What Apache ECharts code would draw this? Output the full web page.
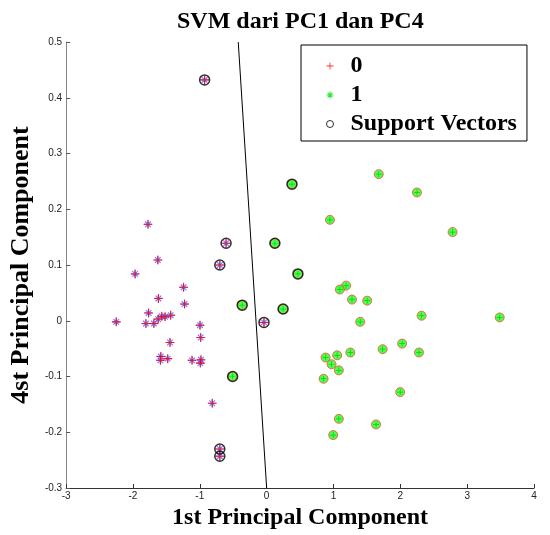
<!DOCTYPE html>
<html lang="en">
<head>
    <meta charset="UTF-8">
    <title>SVM dari PC1 dan PC4</title>
    <script src="https://cdn.jsdelivr.net/npm/echarts@6/dist/echarts.min.js"></script>
    <style>
        body{ margin:0; background:#fff; }
        #chart{ width:550px; height:535px; }
    </style>
</head>
<body>
<div id="chart"></div>
<script>
    // kelas 0 (bukan support vector)
    var class0 = [
        [-1.776,0.173],[-1.628,0.109],[-1.968,0.084],[-1.243,0.060],[-1.619,0.040],
        [-1.228,0.030],[-1.767,0.014],[-2.250,-0.002],[-1.569,0.008],[-1.520,0.007],
        [-1.436,0.010],[-1.623,0.003],[-1.806,-0.005],[-1.687,-0.005],[-0.997,-0.008],
        [-0.987,-0.030],[-1.446,-0.039],[-1.584,-0.064],[-1.589,-0.071],[-1.480,-0.068],
        [-1.116,-0.071],[-0.983,-0.070],[-0.992,-0.076],[-0.814,-0.148]
    ];
    var sv0 = [
        [-0.928,0.432],[-0.607,0.139],[-0.701,0.100],[-0.040,-0.003],[-0.701,-0.230],[-0.701,-0.243]
    ];
    // kelas 1
    var class1 = [
        [1.677,0.263],[2.249,0.230],[0.947,0.181],[2.782,0.159],[1.188,0.063],
        [1.095,0.056],[1.277,0.038],[1.504,0.036],[2.318,0.009],[3.487,0.006],
        [1.400,-0.002],[2.027,-0.041],[1.736,-0.051],[2.279,-0.057],[1.252,-0.057],
        [1.055,-0.062],[0.882,-0.066],[0.971,-0.078],[1.080,-0.089],[0.852,-0.104],
        [1.998,-0.128],[1.080,-0.176],[1.637,-0.186],[0.996,-0.205]
    ];
    var sv1 = [
        [0.379,0.245],[0.123,0.139],[0.468,0.084],[0.246,0.021],[-0.366,0.028],[-0.509,-0.100]
    ];
    // garis pemisah
    var boundary = [[-0.425,0.5],[0.0,-0.3]];

    var serif = "'Times New Roman', 'Liberation Serif', serif";
    var plusPath = 'path://M-0.12,-1H0.12V-0.12H1V0.12H0.12V1H-0.12V0.12H-1V-0.12H-0.12Z';
    var starPath = 'path://M-0.15,-1H0.15V-0.15H1V0.15H0.15V1H-0.15V0.15H-1V-0.15H-0.15Z M-0.8,-0.6L-0.6,-0.8L0.8,0.6L0.6,0.8Z M0.6,-0.8L0.8,-0.6L-0.6,0.8L-0.8,0.6Z';

    var all0 = class0.concat(sv0);
    var all1 = class1.concat(sv1);
    var svAll = sv0.concat(sv1);

    var chart = echarts.init(document.getElementById('chart'));
    var option = {
        animation:false,
        title:{
            text:'SVM dari PC1 dan PC4',
            left:172, top:5,
            textStyle:{ fontFamily:serif, fontSize:24, fontWeight:'bold', color:'#000' }
        },
        legend:{
            orient:'vertical',
            left:301, top:45,
            padding:[9,10,5,25],
            itemGap:5,
            itemWidth:7, itemHeight:7,
            borderColor:'#000', borderWidth:1,
            backgroundColor:'#fff',
            textStyle:{ fontFamily:serif, fontSize:24, fontWeight:'bold', color:'#000', padding:[0,0,0,12] },
            data:[
                { name:'0', icon:plusPath, itemStyle:{ color:'#ff0000', borderWidth:0 } },
                { name:'1', icon:starPath, itemStyle:{ color:'#00dd00', borderWidth:0 } },
                { name:'Support Vectors', icon:'circle', itemStyle:{ color:'#fff', borderColor:'#000', borderWidth:1 } }
            ]
        },
        grid:{ left:61, right:16, top:42, bottom:46 },
        xAxis:{
            type:'value', min:-3, max:4, interval:1,
            name:'1st Principal Component', nameLocation:'middle', nameGap:18,
            nameTextStyle:{ fontFamily:serif, fontSize:24, fontWeight:'bold', color:'#000' },
            axisLine:{ onZero:false, lineStyle:{ color:'#333' } },
            axisTick:{ inside:true, length:4, lineStyle:{ color:'#333' } },
            axisLabel:{ margin:3, fontFamily:'Liberation Sans', fontSize:10, color:'#222' },
            splitLine:{ show:false }
        },
        yAxis:{
            type:'value', min:-0.3, max:0.5, interval:0.1,
            name:'4st Principal Component', nameLocation:'middle', nameGap:23,
            nameTextStyle:{ fontFamily:serif, fontSize:26, fontWeight:'bold', color:'#000' },
            axisLine:{ onZero:false, lineStyle:{ color:'#888' } },
            axisTick:{ inside:true, length:4, lineStyle:{ color:'#555' } },
            axisLabel:{ margin:4, fontFamily:'Liberation Sans', fontSize:10, color:'#222',
                formatter:function(v){ return String(+v.toFixed(1)); } },
            splitLine:{ show:false }
        },
        series:[
            {
                name:'boundary', type:'line', data:boundary, symbol:'none',
                lineStyle:{ color:'#000', width:1 }, z:1
            },
            {
                name:'0b', type:'scatter', data:all0, symbol:starPath, symbolSize:8,
                itemStyle:{ color:'#5555ff', opacity:0.8 }, z:2
            },
            {
                name:'0', type:'scatter', data:all0, symbol:plusPath, symbolSize:9,
                itemStyle:{ color:'#ff0000' }, z:3
            },
            {
                name:'1', type:'scatter', data:all1, symbol:'circle', symbolSize:9,
                itemStyle:{ color:'#22ff22', borderColor:'#ff4444', borderWidth:1 }, z:3
            },
            {
                name:'1s', type:'scatter', data:all1, symbol:plusPath, symbolSize:6,
                itemStyle:{ color:'#00bb00' }, z:4
            },
            {
                name:'Support Vectors', type:'scatter', data:svAll, symbol:'circle', symbolSize:10,
                itemStyle:{ color:'rgba(0,0,0,0)', borderColor:'#000', borderWidth:1.5 }, z:5
            }
        ]
    };
    chart.setOption(option);
</script>
</body>
</html>
